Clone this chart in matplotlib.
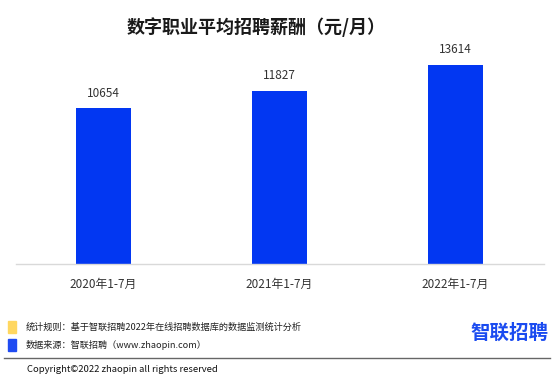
import matplotlib
matplotlib.use("Agg")
import matplotlib.pyplot as plt
from matplotlib.patches import Rectangle
from matplotlib.lines import Line2D

plt.rcParams["font.family"] = ["Noto Sans CJK SC", "DejaVu Sans"]

# --- datos ---
periods = ["2020年1-7月", "2021年1-7月", "2022年1-7月"]
salaries = [10654, 11827, 13614]

title = "数字职业平均招聘薪酬（元/月）"
note_rule = "统计规则：基于智联招聘2022年在线招聘数据库的数据监测统计分析"
note_source = "数据来源：智联招聘（www.zhaopin.com）"
copyright_text = "Copyright©2022 zhaopin all rights reserved"
logo_text = "智联招聘"

BAR_BLUE = "#0237F2"
YELLOW = "#FFD760"

W, H = 554, 380
fig = plt.figure(figsize=(W / 100, H / 100), dpi=100)

# ejes: fondo de barras en y=264 px, techo en y=50 px
ax = fig.add_axes([15.5 / W, (H - 264) / H, 528 / W, 214 / H])
x = range(len(periods))
bars = ax.bar(x, salaries, width=0.3125, color=BAR_BLUE)
ax.set_xlim(-0.5, len(periods) - 0.5)
ax.set_ylim(0, 10654 * 214 / 156)

for b, v in zip(bars, salaries):
    ax.annotate(str(v), (b.get_x() + b.get_width() / 2, v), xytext=(0, 6),
                textcoords="offset points", ha="center", va="bottom",
                fontsize=8.5, color="#333333")

ax.set_xticks(list(x))
ax.set_xticklabels(periods, fontsize=8.5, color="#333333")
ax.tick_params(axis="x", length=0, pad=10)
ax.set_yticks([])
for s in ["top", "right", "left"]:
    ax.spines[s].set_visible(False)
ax.spines["bottom"].set_color("#D9D9D9")
ax.spines["bottom"].set_linewidth(1)

# titulo
fig.text(256 / W, 1 - 27 / H, title, ha="center", va="center",
         fontsize=13, fontweight="bold", color="#1a1a1a")

# leyenda de notas
fig.patches.append(Rectangle((8 / W, 1 - 333 / H), 8 / W, 12 / H,
                             transform=fig.transFigure, color=YELLOW))
fig.patches.append(Rectangle((8 / W, 1 - 351 / H), 8 / W, 12 / H,
                             transform=fig.transFigure, color="#1F4BF2"))
fig.text(26 / W, 1 - 327 / H, note_rule, ha="left", va="center",
         fontsize=6.6, color="#222222")
fig.text(26 / W, 1 - 345 / H, note_source, ha="left", va="center",
         fontsize=6.6, color="#222222")

# logo
fig.text(548 / W, 1 - 333 / H, logo_text, ha="right", va="center",
         fontsize=14, fontweight="bold", color="#1A4BF0")

# separador
fig.lines.append(Line2D([4 / W, 550 / W], [1 - 358 / H, 1 - 358 / H],
                        transform=fig.transFigure, color="#666666", lw=1))
fig.text(27 / W, 1 - 370 / H, copyright_text, ha="left", va="center",
         fontsize=6.8, color="#111111")

fig.savefig("out.png", dpi=100)
